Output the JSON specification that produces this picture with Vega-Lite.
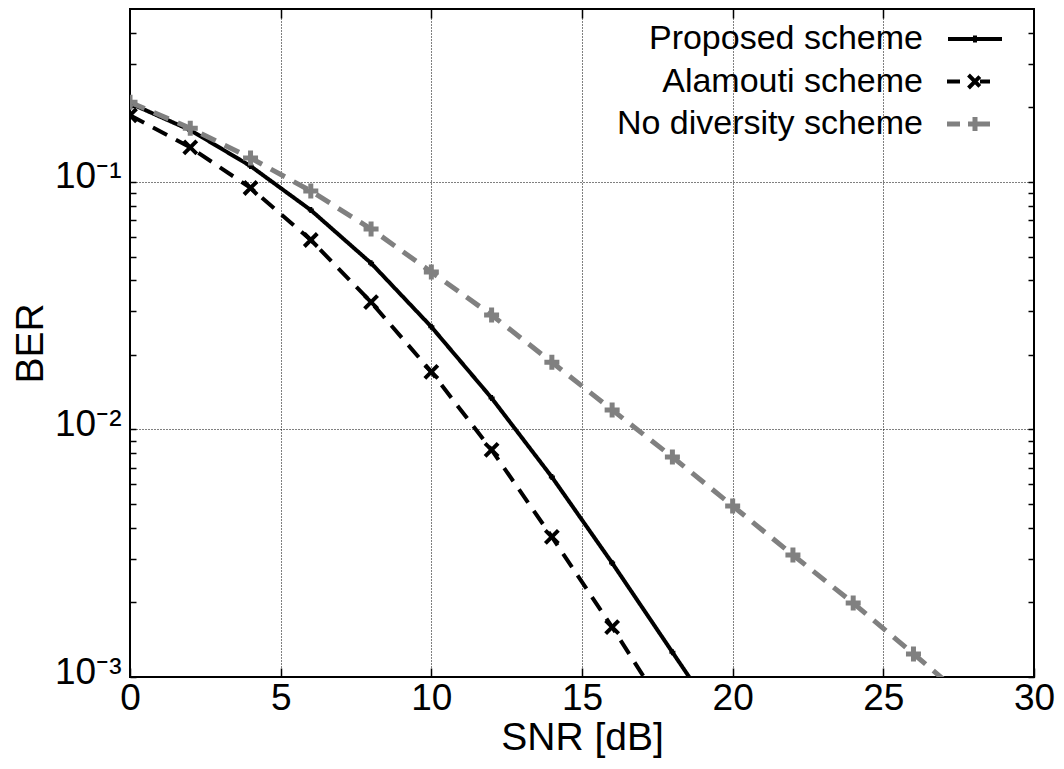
{
  "$schema": "https://vega.github.io/schema/vega-lite/v6.json",
  "width": 904,
  "height": 668,
  "autosize": {"type": "none"},
  "padding": {"left": 130, "top": 9, "right": 30, "bottom": 92},
  "background": "white",
  "config": {
    "font": "Liberation Sans",
    "view": {"stroke": "black", "strokeWidth": 2},
    "axis": {"domain": false, "labelColor": "black", "titleColor": "black", "titleFontWeight": "normal", "tickColor": "black", "tickWidth": 1.5, "labelFont": "Liberation Sans", "titleFont": "Liberation Sans"}
  },
  "data": {
    "values": [
      {"snr": 0, "ber": 0.208, "scheme": "Proposed scheme"},
      {"snr": 2, "ber": 0.162, "scheme": "Proposed scheme"},
      {"snr": 4, "ber": 0.116, "scheme": "Proposed scheme"},
      {"snr": 6, "ber": 0.077, "scheme": "Proposed scheme"},
      {"snr": 8, "ber": 0.047, "scheme": "Proposed scheme"},
      {"snr": 10, "ber": 0.026, "scheme": "Proposed scheme"},
      {"snr": 12, "ber": 0.0134, "scheme": "Proposed scheme"},
      {"snr": 14, "ber": 0.00643, "scheme": "Proposed scheme"},
      {"snr": 16, "ber": 0.00289, "scheme": "Proposed scheme"},
      {"snr": 18, "ber": 0.00126, "scheme": "Proposed scheme"},
      {"snr": 20, "ber": 0.00055, "scheme": "Proposed scheme"},
      {"snr": 0, "ber": 0.186, "scheme": "Alamouti scheme"},
      {"snr": 2, "ber": 0.138, "scheme": "Alamouti scheme"},
      {"snr": 4, "ber": 0.0946, "scheme": "Alamouti scheme"},
      {"snr": 6, "ber": 0.0583, "scheme": "Alamouti scheme"},
      {"snr": 8, "ber": 0.0327, "scheme": "Alamouti scheme"},
      {"snr": 10, "ber": 0.0171, "scheme": "Alamouti scheme"},
      {"snr": 12, "ber": 0.00827, "scheme": "Alamouti scheme"},
      {"snr": 14, "ber": 0.00368, "scheme": "Alamouti scheme"},
      {"snr": 16, "ber": 0.00159, "scheme": "Alamouti scheme"},
      {"snr": 18, "ber": 0.00066, "scheme": "Alamouti scheme"},
      {"snr": 0, "ber": 0.21, "scheme": "No diversity scheme"},
      {"snr": 2, "ber": 0.165, "scheme": "No diversity scheme"},
      {"snr": 4, "ber": 0.125, "scheme": "No diversity scheme"},
      {"snr": 6, "ber": 0.092, "scheme": "No diversity scheme"},
      {"snr": 8, "ber": 0.0646, "scheme": "No diversity scheme"},
      {"snr": 10, "ber": 0.0433, "scheme": "No diversity scheme"},
      {"snr": 12, "ber": 0.029, "scheme": "No diversity scheme"},
      {"snr": 14, "ber": 0.0187, "scheme": "No diversity scheme"},
      {"snr": 16, "ber": 0.012, "scheme": "No diversity scheme"},
      {"snr": 18, "ber": 0.00774, "scheme": "No diversity scheme"},
      {"snr": 20, "ber": 0.00491, "scheme": "No diversity scheme"},
      {"snr": 22, "ber": 0.00311, "scheme": "No diversity scheme"},
      {"snr": 24, "ber": 0.00199, "scheme": "No diversity scheme"},
      {"snr": 26, "ber": 0.00124, "scheme": "No diversity scheme"},
      {"snr": 28, "ber": 0.00077, "scheme": "No diversity scheme"}
    ]
  },
  "layer": [
    {
      "transform": [{"filter": {"field": "scheme", "oneOf": ["Proposed scheme", "Alamouti scheme"]}}],
      "mark": {"type": "line", "strokeWidth": 4, "clip": true},
      "encoding": {
        "x": {
          "field": "snr", "type": "quantitative",
          "scale": {"domain": [0, 30], "nice": false, "zero": false},
          "axis": {"orient": "bottom", "values": [0, 5, 10, 15, 20, 25, 30], "title": "SNR [dB]", "grid": true, "gridColor": "black", "gridDash": [1, 2], "gridWidth": 1, "tickSize": -9, "labelPadding": 12, "labelFontSize": 37, "titleFontSize": 39, "labelFlush": false, "labelOverlap": false, "titlePadding": 2}
        },
        "y": {
          "field": "ber", "type": "quantitative",
          "scale": {"type": "log", "domain": [0.001, 0.5], "nice": false},
          "axis": {
            "orient": "left",
            "values": [0.001, 0.002, 0.003, 0.004, 0.005, 0.006, 0.007, 0.008, 0.009, 0.01, 0.02, 0.03, 0.04, 0.05, 0.06, 0.07, 0.08, 0.09, 0.1, 0.2, 0.3, 0.4],
            "labelExpr": "datum.value == 0.1 ? '10⁻¹' : datum.value == 0.01 ? '10⁻²' : datum.value == 0.001 ? '10⁻³' : ''",
            "title": "BER", "grid": true, "gridColor": "black", "gridDash": [1, 2], "gridWidth": 1,
            "gridOpacity": {"condition": {"test": "datum.value == 0.1 || datum.value == 0.01", "value": 1}, "value": 0},
            "tickSize": -6, "labelPadding": 15, "labelFontSize": 37, "titleFontSize": 39, "labelOverlap": false, "titlePadding": 4, "labelOffset": -5
          }
        },
        "color": {
          "field": "scheme", "type": "nominal",
          "scale": {"domain": ["Proposed scheme", "Alamouti scheme", "No diversity scheme"], "range": ["#000000", "#000000", "#808080"]},
          "legend": {
            "orient": "none", "legendX": 828, "legendY": 13, "title": null, "direction": "vertical",
            "labelFontSize": 34, "labelFont": "Liberation Sans", "labelColor": "black", "labelAlign": "right", "labelOffset": -69, "labelLimit": 600,
            "symbolType": "stroke", "symbolSize": 100, "symbolStrokeWidth": 4, "rowPadding": 8.5, "padding": 0,
            "encode": {
              "symbols": {
                "update": {
                  "shape": {"signal": "datum.value == 'Proposed scheme' ? 'M-5.4,0H5.4M0,-0.7V0.7' : datum.value == 'Alamouti scheme' ? 'M-5.6,0H-3M-1.3,-1.3L1.3,1.3M-1.3,1.3L1.3,-1.3M1,0H3' : 'M-5.6,0H-3M-1.4,0H1.4M0,-1.4V1.4M1,0H3'"},
                  "strokeWidth": {"signal": "datum.value == 'No diversity scheme' ? 5 : 4"},
                  "strokeDash": {"value": [1, 0]}
                }
              }
            }
          }
        },
        "strokeDash": {
          "field": "scheme", "type": "nominal",
          "scale": {"domain": ["Proposed scheme", "Alamouti scheme", "No diversity scheme"], "range": [[1, 0], [16, 10], [16, 10]]},
          "legend": null
        }
      }
    },
    {
      "transform": [{"filter": {"field": "scheme", "equal": "No diversity scheme"}}],
      "mark": {"type": "line", "strokeWidth": 5, "clip": true},
      "encoding": {
        "x": {"field": "snr", "type": "quantitative", "axis": null},
        "y": {"field": "ber", "type": "quantitative", "axis": null},
        "color": {"field": "scheme", "type": "nominal", "legend": null},
        "strokeDash": {"field": "scheme", "type": "nominal", "legend": null}
      }
    },
    {
      "transform": [{"filter": {"field": "scheme", "equal": "Proposed scheme"}}],
      "mark": {"type": "point", "shape": "M-1,0H1M0,-1V1", "size": 36, "filled": false, "strokeWidth": 3, "color": "#000000", "opacity": 1, "clip": true},
      "encoding": {
        "x": {"field": "snr", "type": "quantitative", "axis": {"orient": "top", "values": [5, 10, 15, 20, 25], "labels": false, "tickSize": -9, "grid": false, "title": null}},
        "y": {"field": "ber", "type": "quantitative", "axis": {"orient": "right", "values": [0.001, 0.002, 0.003, 0.004, 0.005, 0.006, 0.007, 0.008, 0.009, 0.01, 0.02, 0.03, 0.04, 0.05, 0.06, 0.07, 0.08, 0.09, 0.1, 0.2, 0.3, 0.4], "labels": false, "tickSize": -6, "grid": false, "title": null}}
      }
    },
    {
      "transform": [{"filter": {"field": "scheme", "equal": "Alamouti scheme"}}],
      "mark": {"type": "point", "shape": "M-1,-1L1,1M-1,1L1,-1", "size": 169, "filled": false, "strokeWidth": 4, "color": "#000000", "opacity": 1, "clip": true},
      "encoding": {
        "x": {"field": "snr", "type": "quantitative", "axis": null},
        "y": {"field": "ber", "type": "quantitative", "axis": null}
      }
    },
    {
      "transform": [{"filter": {"field": "scheme", "equal": "No diversity scheme"}}],
      "mark": {"type": "point", "shape": "M-1,0H1M0,-1V1", "size": 225, "filled": false, "strokeWidth": 5, "color": "#808080", "opacity": 1, "clip": true},
      "encoding": {
        "x": {"field": "snr", "type": "quantitative", "axis": null},
        "y": {"field": "ber", "type": "quantitative", "axis": null}
      }
    }
  ],
  "resolve": {"axis": {"x": "independent", "y": "independent"}}
}
